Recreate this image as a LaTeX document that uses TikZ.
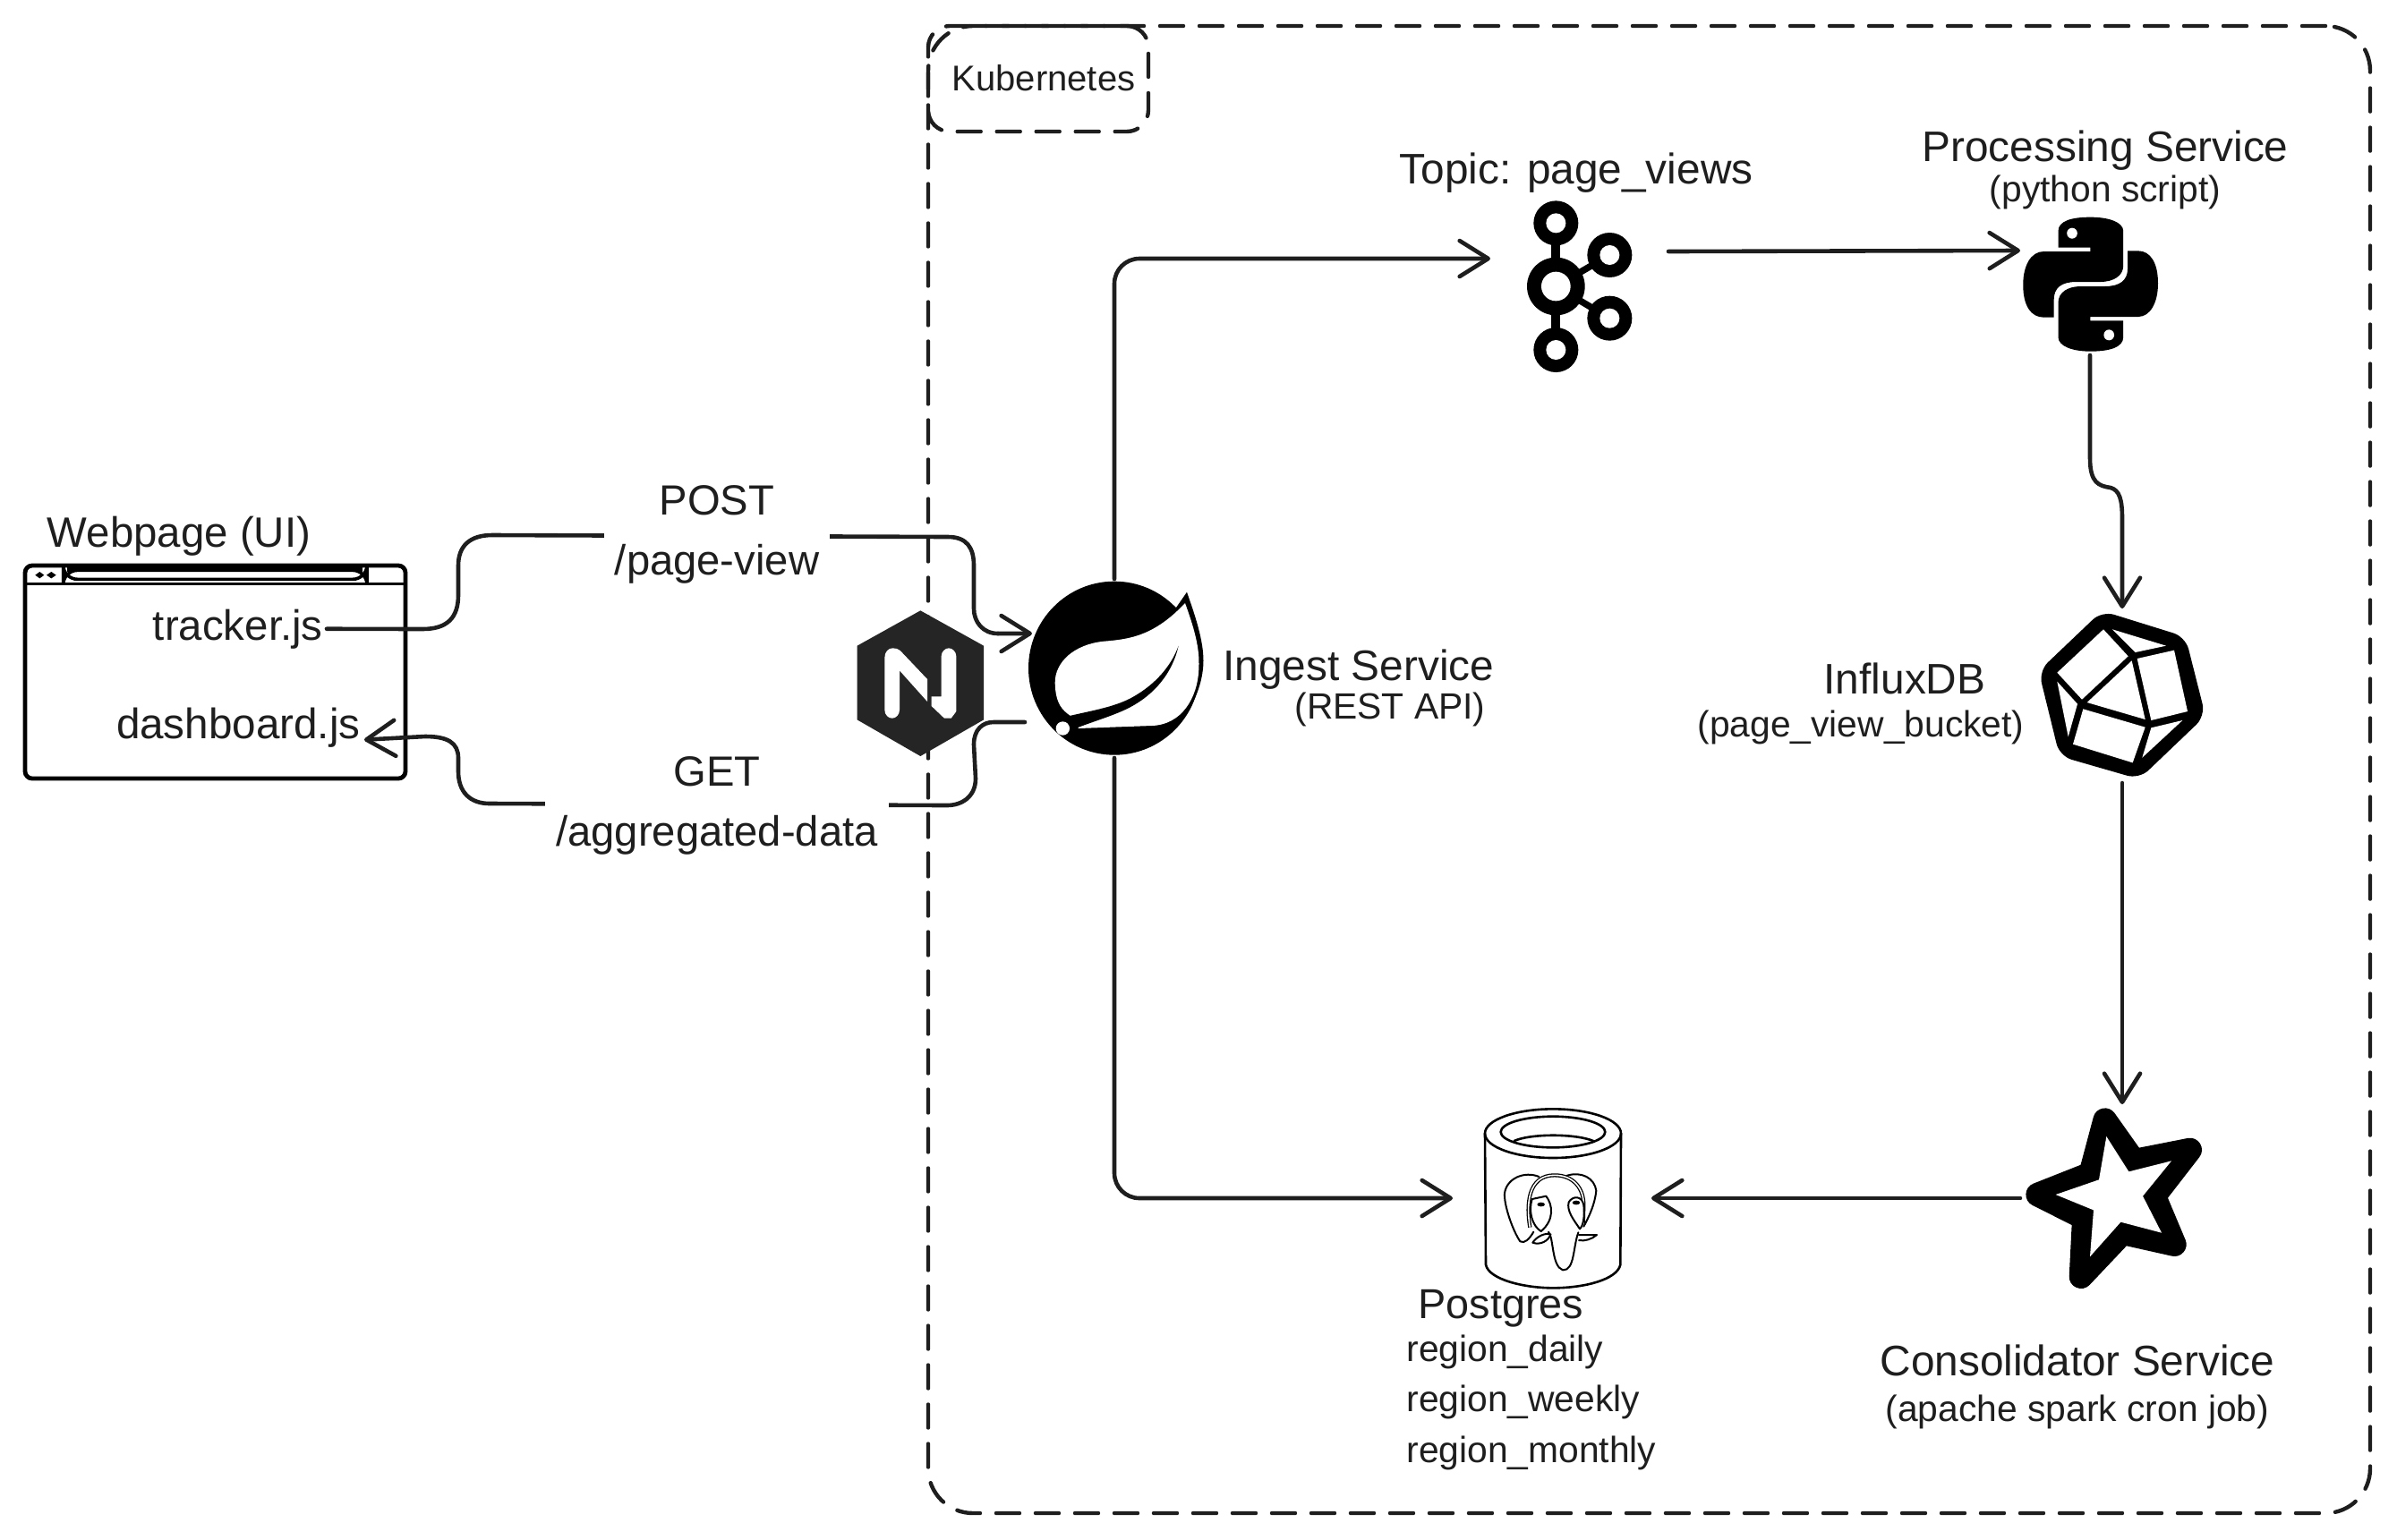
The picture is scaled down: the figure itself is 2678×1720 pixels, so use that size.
\documentclass[tikz,border=0pt]{standalone}
\usepackage{fontspec}
\setmainfont{Liberation Sans}
\usetikzlibrary{arrows.meta}
\definecolor{ink}{HTML}{1E1E1E}
\definecolor{ngx}{HTML}{252525}
\tikzset{
  conn/.style={draw=ink,line width=2.3pt,line cap=round,line join=round},
  arrowed/.style={conn,-{Straight Barb[length=16pt,width=20pt,line width=2.3pt,round]}},
  dashbox/.style={draw=ink,line width=2.2pt,dash pattern=on 13pt off 9pt,line cap=round},
  iconbox/.style={inner sep=0pt,outer sep=0pt},
  big/.style={inner sep=0pt,font=\fontsize{23.9}{28}\selectfont,text=ink},
  mid/.style={inner sep=0pt,font=\fontsize{23.7}{28}\selectfont,text=ink},
  small/.style={inner sep=0pt,font=\fontsize{20.4}{24}\selectfont,text=ink},
  label/.style={fill=white,inner xsep=6pt,inner ysep=0pt,align=center,font=\fontsize{23.6}{33.5}\selectfont,text=ink},
  zoomone/.style={shift={(900,620)},x=.16667pt,y=-.16667pt},
  zoomtwo/.style={shift={(1640,1220)},x=.16667pt,y=-.16667pt},
  zoomthree/.style={shift={(2240,660)},x=.16667pt,y=-.16667pt},
  zoomsix/.style={shift={(2240,1220)},x=.16667pt,y=-.16667pt},
  zoomfour/.style={shift={(1680,200)},x=.24237pt,y=-.16667pt},
  zoomfive/.style={shift={(0,560)},x=.16667pt,y=-.16667pt},
  zoomn/.style={shift={(980,715)},x=.16667pt,y=-.16667pt},
  zoomk/.style={shift={(1690,210)},x=.16667pt,y=-.16667pt},
  zoomel/.style={shift={(1670,1300)},x=.16667pt,y=-.16667pt},
  thinink/.style={draw=black,line width=1.1pt,line join=round,line cap=round},
  eleph/.style={draw=black,line width=1pt,line join=round,line cap=round},
}
\begin{document}
\begin{tikzpicture}[x=0.5pt,y=-0.5pt]
\useasboundingbox (0,0) rectangle (2678,1720);

% Kubernetes frame
\node[dashbox,rounded corners=25pt,minimum width=805.5pt,minimum height=831pt,inner sep=0pt] (k8s) at (1842.5,860) {};
\node[dashbox,rounded corners=12pt,minimum width=123pt,minimum height=59pt,inner sep=0pt] (k8slabel) at (1160,88) {};
\node[small,font=\fontsize{20}{24}\selectfont] (k8stext) at (1166,87) {Kubernetes};

% Browser window
\draw[black,line width=2.4pt,rounded corners=4pt] (28,632) rectangle (453,870);
\node[inner sep=0pt] (browser) at (240,751) {};
\begin{scope}[zoomfive]
  \draw[black,line width=1.3pt] (85,277) -- (1357,277);
  \draw[black,line width=1.8pt,rounded corners=8pt,fill=white] (212,232) rectangle (1230,262);
  \draw[black,line width=2.8pt] (225,230) -- (1215,230);
  \fill[black] (118,248) -- (133,237) -- (148,248) -- (133,259) -- cycle;
  \fill[black] (156,248) -- (172,237) -- (188,248) -- (172,259) -- cycle;
\end{scope}
\node[mid,anchor=base] (webpage) at (200,611) {Webpage (UI)};
\node[mid,anchor=base east] (tracker) at (361,715) {tracker.js};
\node[mid,anchor=base east,font=\fontsize{23.8}{28}\selectfont] (dashboard) at (403,825) {dashboard.js};

% Icon anchors
\node[iconbox,circle,minimum size=100pt] (spring) at (1245,747) {};
\node[iconbox,minimum width=99.5pt,minimum height=60pt] (kafka) at (1764.5,285) {};
\node[iconbox,minimum width=78pt,minimum height=117pt] (python) at (2335,280) {};
\node[iconbox,minimum width=40pt,minimum height=97.5pt] (influx) at (2371,777.5) {};
\node[iconbox,minimum width=114pt,minimum height=105pt] (star) at (2371,1339) {};
\node[iconbox,minimum width=111pt,minimum height=60pt] (pg) at (1734,1339) {};

% Nginx
\begin{scope}[zoomone]
  \fill[ngx] (385,187) -- (597,305) -- (597,553) -- (385,675) -- (173,553) -- (173,305) -- cycle;
\end{scope}
\begin{scope}[zoomn]
  \fill[white] (25,60) .. controls (25,40) and (38,28) .. (52,28) .. controls (62,28) and (70,30) .. (77,36)
     -- (168,132) -- (168,207) -- (75,103) -- (75,235)
     .. controls (75,252) and (62,263) .. (50,263) .. controls (38,263) and (25,252) .. (25,235) -- cycle;
  \fill[white] (215,190) -- (182,190) -- (182,222) -- (225,263) -- (248,263) -- (265,240) -- (265,55)
     .. controls (265,40) and (252,28) .. (240,28) .. controls (228,28) and (215,40) .. (215,55) -- cycle;
\end{scope}

% Spring
\begin{scope}[zoomone]
  \fill[black] (1035,380) ellipse [x radius=288,y radius=291];
  \fill[black] (1240,180) -- (1278,125) .. controls (1300,190) and (1338,290) .. (1333,370)
     .. controls (1325,480) and (1260,590) .. (1150,600) -- cycle;
  \fill[white] (888,540) .. controls (860,520) and (838,500) .. (836,430)
     .. controls (835,360) and (900,300) .. (1000,290)
     .. controls (1090,283) and (1170,270) .. (1272,162)
     .. controls (1300,240) and (1322,310) .. (1318,380)
     .. controls (1315,480) and (1260,570) .. (1160,573) -- (915,582) -- cycle;
  \fill[black] (885,540) .. controls (960,522) and (1040,510) .. (1100,475)
     .. controls (1170,435) and (1225,375) .. (1250,305)
     .. controls (1230,395) and (1170,470) .. (1080,515)
     .. controls (1030,540) and (960,560) .. (905,582) -- cycle;
  \fill[white] (862,582) circle [radius=23];
\end{scope}

% Kafka
\begin{scope}[zoomk]
  \draw[black,line width=5pt] (145,118) -- (145,543);
  \draw[black,line width=3.7pt] (145,330) -- (325,225);
  \draw[black,line width=3.7pt] (145,330) -- (325,437);
  \foreach \cx/\cy in {145/118,325/225,325/437,145/543}{
    \fill[black] (\cx,\cy) circle [radius=75];
    \fill[white] (\cx,\cy) circle [radius=33];
  }
  \fill[black] (145,330) circle [radius=97];
  \fill[white] (145,330) circle [radius=49];
\end{scope}

% Python
\begin{scope}[zoomfour]
  \fill[black] (1278,175) .. controls (1278,140) and (1310,128) .. (1352,128)
     .. controls (1395,128) and (1428,145) .. (1428,175) -- (1428,290)
     .. controls (1428,325) and (1405,345) .. (1375,345) -- (1320,345)
     .. controls (1285,345) and (1268,365) .. (1268,405) -- (1268,464) -- (1245,464)
     .. controls (1215,464) and (1197,425) .. (1197,355)
     .. controls (1197,290) and (1215,243) .. (1245,243) -- (1352,243) -- (1352,230) -- (1278,230) -- cycle;
  \fill[black] (1428,530) .. controls (1428,565) and (1395,578) .. (1352,578)
     .. controls (1310,578) and (1278,560) .. (1278,530) -- (1278,415)
     .. controls (1278,380) and (1300,360) .. (1330,360) -- (1385,360)
     .. controls (1420,360) and (1438,340) .. (1438,300) -- (1438,241) -- (1462,241)
     .. controls (1490,241) and (1508,280) .. (1508,350)
     .. controls (1508,415) and (1490,462) .. (1462,462) -- (1352,462) -- (1352,475) -- (1428,475) -- cycle;
  \fill[white] (1310,182) ellipse [x radius=12,y radius=18];
  \fill[white] (1395,523) ellipse [x radius=12,y radius=18];
\end{scope}

% InfluxDB
\begin{scope}[zoomthree]
  \fill[black,rounded corners=7pt] (325,68) -- (605,155) -- (672,420) -- (450,632) -- (183,555) -- (113,270) -- cycle;
  \fill[white] (330,130) -- (413,220) -- (258,365) -- (175,275) -- cycle;
  \fill[white] (360,130) -- (540,185) -- (437,207) -- cycle;
  \fill[white] (567,200) -- (612,405) -- (490,435) -- (443,228) -- cycle;
  \fill[white] (425,235) -- (470,432) -- (275,375) -- cycle;
  \fill[white] (262,397) -- (470,458) -- (428,577) -- (228,515) -- cycle;
  \fill[white] (175,305) -- (243,380) -- (212,490) -- cycle;
  \fill[white] (595,435) -- (490,460) -- (460,560) -- cycle;
\end{scope}

% Spark star
\begin{scope}[zoomsix]
  \draw[black,fill=black,line width=13.3pt,line join=round]
    (335,95) -- (432,232) -- (620,195) -- (500,350) -- (568,512) -- (394,473) -- (255,620) -- (265,423) -- (110,345) -- (287,275) -- cycle;
  \fill[white] (340,150) -- (415,268) -- (558,232) -- (462,350) -- (525,473) -- (388,437) -- (285,553) -- (297,397) -- (170,345) -- (315,295) -- cycle;
\end{scope}

% Postgres
\begin{scope}[zoomtwo]
  \draw[thinink,line width=1.3pt] (285,140) ellipse [x radius=228,y radius=82];
  \draw[thinink,line width=1.3pt] (285,135) ellipse [x radius=175,y radius=52];
  \draw[thinink,line width=1.3pt] (155,165) .. controls (210,140) and (360,140) .. (420,165);
  \draw[thinink,line width=1.3pt] (57,140) -- (60,580) .. controls (70,630) and (190,658) .. (285,658)
     .. controls (390,658) and (500,630) .. (511,580) -- (513,140);
\end{scope}
\begin{scope}[zoomel]
  \draw[eleph] (130,230) .. controls (115,255) and (100,270) .. (85,262)
     .. controls (60,225) and (30,140) .. (33,100) .. controls (40,50) and (100,25) .. (148,45);
  \draw[eleph] (240,42) .. controls (290,25) and (335,50) .. (340,92)
     .. controls (335,140) and (315,180) .. (298,212);
  \draw[black,line width=2.1pt] (118,215) .. controls (105,140) and (110,40) .. (200,40)
     .. controls (265,40) and (298,85) .. (298,140) -- (296,205);
  \draw[white,line width=.8pt] (118,215) .. controls (105,140) and (110,40) .. (200,40)
     .. controls (265,40) and (298,85) .. (298,140) -- (296,205);
  \draw[eleph,fill=white] (125,120) -- (172,110) .. controls (195,140) and (200,190) .. (155,228)
     .. controls (125,210) and (112,160) .. (125,120) -- cycle;
  \draw[eleph,fill=white] (248,130) .. controls (262,108) and (292,108) .. (298,140)
     .. controls (302,180) and (296,210) .. (285,220) .. controls (265,190) and (240,160) .. (248,130) -- cycle;
  \draw[eleph] (180,230) .. controls (198,250) and (190,345) .. (228,358)
     .. controls (268,360) and (262,280) .. (280,232);
  \draw[eleph] (127,266) .. controls (140,245) and (170,232) .. (187,238) .. controls (180,262) and (150,275) .. (127,266) -- cycle;
  \draw[eleph] (282,240) -- (342,240) .. controls (325,255) and (300,262) .. (282,258);
  \fill[black] (155,138) ellipse [x radius=13,y radius=7];
  \fill[black] (273,132) ellipse [x radius=13,y radius=7];
\end{scope}

% Connectors
\draw[conn] ([xshift=2pt]tracker.east) -- (472,703) .. controls (500,703) and (512,690) .. (512,665) -- (512,632)
   .. controls (512,610) and (525,598) .. (550,598) -- (1059,600)
   .. controls (1080,600) and (1088,612) .. (1088,632) -- (1088,680)
   .. controls (1088,695) and (1098,708) .. (1115,708);
\draw[arrowed] (1115,708) -- (spring.157);
\draw[arrowed] ([yshift=-30pt]spring.west) -- (1110,807) .. controls (1098,807) and (1088,815) .. (1088,832)
   -- (1090,870) .. controls (1090,890) and (1075,900) .. (1058,900) -- (547,898)
   .. controls (525,898) and (512,885) .. (512,862) -- (512,847)
   .. controls (512,830) and (500,823) .. (475,823) -- ([xshift=2pt,yshift=-7pt]dashboard.east);
\draw[arrowed,rounded corners=14pt] (spring.north) |- ([yshift=-2pt]kafka.west);
\draw[arrowed] ([yshift=2pt]kafka.east) -- (python.west);
\draw[arrowed] (python.south) -- (2335,512) .. controls (2335,540) and (2345,543) .. (2358,545)
   .. controls (2368,548) and (2371,558) .. (2371,580) -- (influx.north);
\draw[arrowed] (influx.south) -- (star.north);
\draw[arrowed] (star.west) -- (pg.east);
\draw[arrowed,rounded corners=14pt] (spring.south) |- (pg.west);

% Connector labels
\node[label] (post) at (801,597) {POST\\/page-view};
\node[label] (get) at (801,900) {GET\\/aggregated-data};

% Text
\node[big,anchor=base] (topic) at (1761,205) {Topic: page\_views};
\node[big,anchor=base] (proc) at (2352,180) {Processing Service};
\node[small,anchor=base] (procsub) at (2352,225) {(python script)};
\node[big,anchor=base west] (ingest) at (1366,760) {Ingest Service};
\node[small,anchor=base] (ingestsub) at (1553,803) {(REST API)};
\node[big,anchor=base] (influxt) at (2128,775) {InfluxDB};
\node[small,anchor=base] (influxsub) at (2079,823) {(page\_view\_bucket)};
\node[big,font=\fontsize{23.4}{28}\selectfont,anchor=base] (pgt) at (1677,1473) {Postgres};
\node[small,anchor=base west] (r1) at (1571,1521) {region\_daily};
\node[small,anchor=base west] (r2) at (1571,1577) {region\_weekly};
\node[small,anchor=base west] (r3) at (1571,1634) {region\_monthly};
\node[big,anchor=base] (cons) at (2321,1537) {Consolidator Service};
\node[small,anchor=base] (conssub) at (2321,1588) {(apache spark cron job)};
\end{tikzpicture}
\end{document}
